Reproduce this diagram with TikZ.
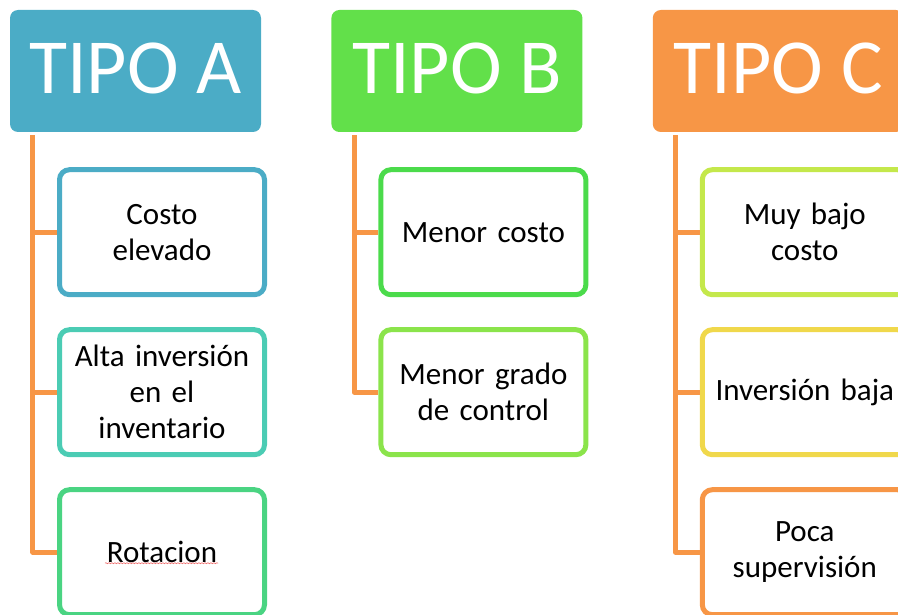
\documentclass[tikz,border=0pt]{standalone}
\usepackage{fontspec}
\setmainfont{Carlito}
\usetikzlibrary{positioning,decorations.pathmorphing}

\definecolor{tipoA}{RGB}{75,172,198}
\definecolor{tipoB}{RGB}{98,224,74}
\definecolor{tipoC}{RGB}{247,150,70}
\definecolor{tealbox}{RGB}{75,204,180}
\definecolor{greenbox}{RGB}{74,212,130}
\definecolor{grassbox}{RGB}{75,219,75}
\definecolor{lightgreenbox}{RGB}{139,228,75}
\definecolor{limebox}{RGB}{196,232,75}
\definecolor{yellowbox}{RGB}{240,216,75}
\definecolor{stemline}{RGB}{247,150,70}
\definecolor{spellred}{RGB}{240,110,110}

\begin{document}
\begin{tikzpicture}[
    x=1pt, y=1pt,
    node distance=30pt,
    header/.style={rectangle, fill=#1, text=white, minimum width=251pt, minimum height=122pt, rounded corners=8pt, font=\fontsize{78}{78}\selectfont, text depth=6pt},
    itembox/.style={rectangle, draw=#1, fill=white, line width=5pt, rounded corners=10pt, minimum width=205pt, minimum height=125pt, text width=196pt, align=center, font=\fontsize{31}{36}\selectfont},
    stem/.style={draw=stemline, line width=5pt, line join=round}
]

\clip (0,0) rectangle (898,-615);

% Headers
\node[header=tipoA] (ta) at (135.5,-71) {TIPO A};
\node[header=tipoB, right=70pt of ta] (tb) {TIPO B};
\node[header=tipoC, right=70pt of tb] (tc) {TIPO C};

% Tipo A
\node[itembox=tipoA, below=35pt of ta, xshift=26.5pt] (a1) {Costo\\elevado};
\node[itembox=tealbox, below=of a1] (a2) {Alta inversión\\en el\\inventario};
\node[itembox=greenbox, below=of a2] (a3) {Rotacion};

% Tipo B
\node[itembox=grassbox, below=35pt of tb, xshift=26.5pt] (b1) {Menor costo};
\node[itembox=lightgreenbox, below=of b1] (b2) {Menor grado\\de control};

% Tipo C
\node[itembox=limebox, below=35pt of tc, xshift=26.5pt] (c1) {Muy bajo\\costo};
\node[itembox=yellowbox, below=of c1] (c2) {Inversión baja};
\node[itembox=tipoC, below=of c2] (c3) {Poca\\supervisión};

% Stems
\coordinate (sa) at ([xshift=23pt,yshift=-3pt]ta.south west);
\coordinate (sb) at ([xshift=23pt,yshift=-3pt]tb.south west);
\coordinate (sc) at ([xshift=23pt,yshift=-3pt]tc.south west);

\draw[stem] (sa) |- (a3.west);
\draw[stem] (sa |- a1.west) -- (a1.west);
\draw[stem] (sa |- a2.west) -- (a2.west);

\draw[stem] (sb) |- (b2.west);
\draw[stem] (sb |- b1.west) -- (b1.west);

\draw[stem] (sc) |- (c3.west);
\draw[stem] (sc |- c1.west) -- (c1.west);
\draw[stem] (sc |- c2.west) -- (c2.west);

% spell check mark
\draw[spellred, line width=0.6pt, decorate, decoration={snake, amplitude=0.5pt, segment length=3pt}]
    ([xshift=-57pt,yshift=-11pt]a3.center) -- ([xshift=56pt,yshift=-11pt]a3.center);

\end{tikzpicture}
\end{document}
